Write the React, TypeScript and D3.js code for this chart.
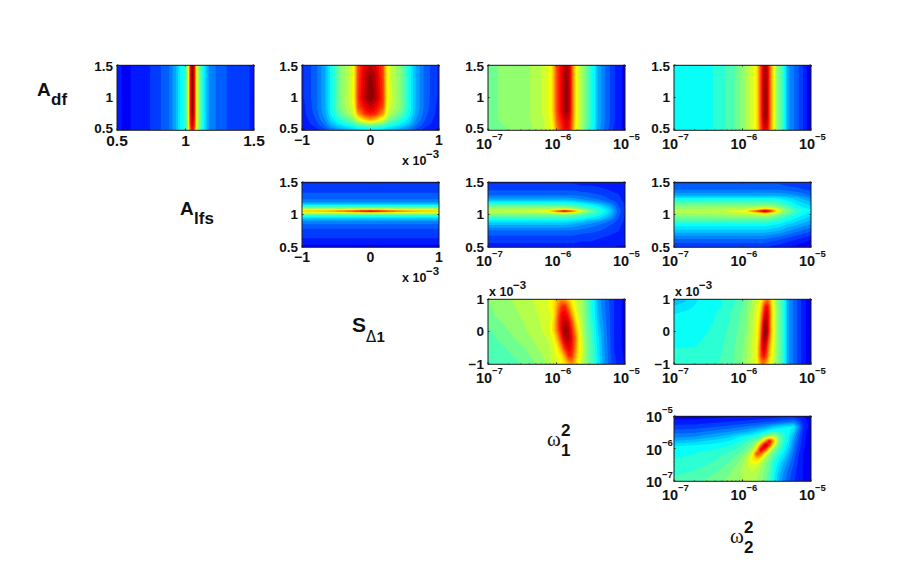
import React, { useMemo } from "react";
import * as d3 from "d3";

// ---- axis tick labels ----
const amplitudeTicks = [0.5, 1, 1.5];
const shiftTicks = [-1, 0, 1];
const logTicks = [-7, -6, -5];

// ---- panel 1: A_df / A_df ----
const p1X = [0.5, 0.55, 0.7, 0.8, 0.88, 0.93, 0.96, 1.0, 1.015, 1.024, 1.03, 1.036, 1.044, 1.05, 1.056, 1.064, 1.07, 1.078, 1.095, 1.125, 1.16, 1.18, 1.3, 1.5];
const p1Y = [1.5, 0.75, 0.6, 0.5];
const p1Z = [
  [.15, .125, .15, .19, .23, .30, .37, .42, .55, .63, .78, .88, .97, .99, .97, .88, .78, .63, .52, .40, .30, .25, .2, .16],
  [.15, .125, .15, .19, .23, .30, .37, .42, .55, .63, .78, .88, .97, .99, .97, .88, .78, .63, .52, .40, .30, .25, .2, .16],
  [.15, .125, .15, .19, .23, .30, .37, .42, .54, .62, .76, .85, .91, .93, .91, .85, .76, .62, .52, .40, .30, .25, .2, .16],
  [.15, .125, .15, .19, .23, .30, .37, .42, .53, .60, .72, .80, .86, .88, .86, .80, .72, .60, .51, .40, .30, .25, .2, .16],
];

// ---- panel 2: S / A_df ----
const p2X = [-1, -.8, -.66, -.58, -.44, -.28, -.234, -.186, -.07, 0, .07, .186, .234, .28, .44, .58, .66, .8, 1];
const p2Y = [1.5, 1.3, 1.0, .85, .75, .66, .58, .5];
const p2Z = [
  [.16, .22, .30, .38, .5, .58, .64, .80, .91, .93, .91, .80, .64, .58, .5, .38, .30, .22, .16],
  [.16, .22, .30, .38, .5, .58, .64, .81, .94, .985, .94, .81, .64, .58, .5, .38, .30, .22, .16],
  [.16, .22, .30, .38, .5, .59, .65, .82, .96, 1.0, .96, .82, .65, .59, .5, .38, .30, .22, .16],
  [.15, .22, .30, .38, .5, .58, .63, .80, .89, .93, .89, .80, .63, .58, .5, .38, .30, .22, .15],
  [.15, .21, .29, .37, .47, .55, .60, .72, .84, .86, .84, .72, .60, .55, .47, .37, .29, .21, .15],
  [.14, .20, .27, .34, .42, .49, .53, .59, .68, .72, .68, .59, .53, .49, .42, .34, .27, .20, .14],
  [.14, .18, .24, .30, .36, .41, .43, .46, .48, .50, .48, .46, .43, .41, .36, .30, .24, .18, .14],
  [.125, .15, .19, .23, .27, .31, .32, .33, .35, .36, .35, .33, .32, .31, .27, .23, .19, .15, .125],
];

// ---- panel 3: omega1 / A_df ----
const p3X = [-7, -6.7, -6.4, -6.16, -6.08, -6.04, -6.0, -5.9, -5.86, -5.81, -5.78, -5.746, -5.71, -5.64, -5.56, -5.49, -5.44, -5.4, -5.3, -5.16, -5];
const p3Y = [1.5, 1.1, .8, .65, .5];
const p3Z = [
  [.49, .51, .53, .58, .62, .70, .80, .92, .96, .92, .82, .70, .62, .55, .47, .40, .37, .30, .24, .17, .12],
  [.49, .51, .53, .58, .62, .70, .80, .93, 1.0, .93, .82, .70, .62, .55, .47, .40, .37, .30, .24, .17, .12],
  [.49, .51, .53, .58, .62, .70, .80, .93, .99, .93, .82, .70, .62, .55, .47, .40, .37, .30, .24, .17, .12],
  [.49, .51, .53, .57, .61, .67, .78, .89, .93, .89, .80, .70, .61, .55, .47, .40, .37, .30, .24, .17, .12],
  [.48, .50, .52, .57, .60, .64, .74, .86, .90, .86, .78, .68, .60, .54, .46, .39, .36, .29, .23, .16, .12],
];

// ---- panel 4: omega2 / A_df ----
const p4X = [-7, -6.76, -6.5, -6.3, -6.1, -5.96, -5.86, -5.8, -5.77, -5.74, -5.695, -5.665, -5.635, -5.605, -5.575, -5.546, -5.5, -5.42, -5.38, -5.34, -5.24, -5.12, -5];
const p4Y = [1.5, 1.0, .7, .5];
const p4Z = [
  [.40, .39, .39, .42, .47, .53, .59, .63, .70, .80, .92, .96, .92, .80, .70, .63, .52, .44, .38, .28, .23, .17, .10],
  [.40, .39, .39, .42, .47, .53, .59, .63, .70, .80, .93, 1.0, .93, .80, .70, .63, .52, .44, .38, .28, .23, .17, .10],
  [.40, .39, .39, .42, .47, .53, .59, .63, .70, .80, .93, .99, .93, .80, .70, .63, .52, .44, .38, .28, .23, .17, .10],
  [.40, .39, .39, .42, .47, .53, .59, .63, .69, .78, .88, .90, .88, .78, .69, .63, .52, .44, .38, .28, .23, .17, .10],
];

// ---- panel 5: S / A_lfs ----
const p5X = [-1, -.6, -.3, -.1, 0, .1, .3, .6, 1];
const p5Y = [1.5, 1.39, 1.28, 1.2, 1.15, 1.115, 1.085, 1.065, 1.052, 1.04, 1.02, .985, .94, .89, .76, .6, .5];
const p5Z = [
  [.16, .16, .16, .16, .16, .16, .16, .16, .16],
  [.19, .19, .19, .19, .19, .19, .19, .19, .19],
  [.21, .21, .21, .21, .21, .21, .21, .21, .21],
  [.25, .25, .25, .25, .25, .25, .25, .25, .25],
  [.35, .35, .35, .35, .35, .35, .35, .35, .35],
  [.45, .45, .45, .45, .45, .45, .45, .45, .45],
  [.57, .57, .57, .57, .57, .57, .57, .57, .57],
  [.62, .64, .68, .72, .74, .72, .68, .64, .62],
  [.70, .76, .87, .97, 1.0, .97, .87, .76, .70],
  [.62, .64, .68, .72, .74, .72, .68, .64, .62],
  [.55, .55, .55, .55, .55, .55, .55, .55, .55],
  [.42, .42, .42, .42, .42, .42, .42, .42, .42],
  [.33, .33, .33, .33, .33, .33, .33, .33, .33],
  [.25, .25, .25, .25, .25, .25, .25, .25, .25],
  [.19, .19, .19, .19, .19, .19, .19, .19, .19],
  [.16, .16, .16, .16, .16, .16, .16, .16, .16],
  [.12, .12, .12, .12, .12, .12, .12, .12, .12],
];

// ---- panel 6: omega1 / A_lfs ----
const p6X = [-7, -6.3, -6.1, -6, -5.88, -5.76, -5.64, -5.5, -5.36, -5.22, -5.1, -5];
const p6Y = [1.5, 1.4, 1.3, 1.23, 1.19, 1.15, 1.1, 1.065, 1.052, 1.04, 1.0, .94, .9, .84, .75, .65, .5];
const p6Z = [
  [.16, .16, .16, .16, .16, .16, .15, .15, .15, .14, .14, .13],
  [.19, .19, .19, .19, .19, .19, .18, .18, .17, .16, .15, .15],
  [.23, .23, .23, .23, .23, .23, .22, .21, .20, .18, .17, .15],
  [.30, .30, .30, .30, .30, .29, .27, .25, .23, .20, .18, .15],
  [.37, .37, .37, .37, .37, .36, .34, .30, .27, .23, .19, .16],
  [.45, .45, .45, .44, .44, .43, .40, .37, .33, .27, .20, .16],
  [.52, .52, .52, .52, .52, .50, .46, .42, .38, .31, .21, .17],
  [.56, .57, .60, .66, .72, .65, .56, .47, .41, .33, .22, .17],
  [.56, .58, .68, .86, 1.0, .85, .60, .48, .42, .33, .22, .17],
  [.56, .57, .60, .66, .72, .65, .56, .47, .41, .33, .22, .17],
  [.50, .50, .50, .50, .50, .49, .46, .42, .38, .31, .21, .17],
  [.42, .42, .42, .42, .42, .41, .39, .36, .33, .27, .20, .16],
  [.36, .36, .36, .36, .36, .35, .33, .30, .27, .23, .19, .16],
  [.30, .30, .30, .30, .30, .29, .27, .25, .23, .20, .18, .15],
  [.23, .23, .23, .23, .23, .23, .22, .21, .20, .18, .17, .15],
  [.19, .19, .19, .19, .19, .19, .18, .18, .17, .16, .15, .15],
  [.15, .15, .15, .15, .15, .15, .15, .15, .14, .14, .13, .13],
];

// ---- panel 7: omega2 / A_lfs ----
const p7X = [-7, -6.3, -5.96, -5.8, -5.67, -5.58, -5.48, -5.36, -5.2, -5];
const p7Y = [1.5, 1.385, 1.29, 1.255, 1.18, 1.1, 1.073, 1.052, 1.03, .995, .917, .84, .76, .68, .604, .5];
const p7Z = [
  [.19, .19, .19, .19, .19, .19, .19, .18, .17, .16],
  [.23, .23, .23, .23, .23, .23, .23, .22, .21, .19],
  [.30, .30, .30, .30, .30, .30, .30, .29, .27, .23],
  [.37, .37, .37, .37, .37, .37, .36, .34, .31, .26],
  [.45, .45, .45, .45, .45, .45, .44, .40, .35, .31],
  [.52, .53, .54, .56, .58, .56, .52, .47, .39, .35],
  [.54, .55, .58, .64, .78, .72, .60, .50, .42, .37],
  [.54, .56, .63, .85, 1.0, .85, .62, .50, .42, .37],
  [.54, .55, .58, .63, .74, .66, .56, .48, .41, .36],
  [.52, .53, .54, .55, .56, .54, .50, .45, .39, .34],
  [.45, .45, .45, .45, .45, .44, .42, .39, .35, .30],
  [.38, .38, .38, .38, .38, .37, .36, .33, .30, .26],
  [.33, .33, .33, .33, .33, .32, .31, .28, .25, .21],
  [.27, .27, .27, .27, .27, .26, .25, .23, .20, .17],
  [.22, .22, .22, .22, .22, .21, .20, .18, .16, .13],
  [.17, .17, .17, .17, .17, .16, .15, .14, .12, .10],
];

// ---- panel 8: omega1 / S ----
const p8X = [-7, -6.707, -6.463, -6.244, -6.122, -6.073, -6.024, -5.976, -5.927, -5.878, -5.829, -5.78, -5.732, -5.683, -5.634, -5.561, -5.478, -5.439, -5.39, -5.293, -5.171, -5];
const p8Y = [1, .76, .5, .26, .04, -.2, -.5, -.76, -1];
const p8Z = [
  [.50, .53, .55, .58, .60, .62, .65, .70, .73, .71, .67, .63, .59, .56, .54, .47, .39, .36, .29, .23, .17, .12],
  [.495, .525, .545, .575, .60, .62, .67, .75, .83, .85, .76, .67, .61, .565, .54, .47, .39, .365, .295, .235, .17, .12],
  [.49, .52, .54, .57, .59, .60, .67, .79, .88, .90, .85, .74, .64, .58, .54, .475, .395, .37, .30, .24, .17, .12],
  [.475, .51, .535, .565, .59, .615, .70, .81, .90, .96, .92, .82, .70, .61, .56, .48, .41, .375, .315, .245, .17, .12],
  [.46, .50, .53, .56, .59, .62, .70, .80, .89, .99, .95, .86, .74, .64, .57, .49, .42, .38, .33, .25, .17, .12],
  [.45, .49, .52, .55, .57, .59, .64, .73, .85, .94, .97, .88, .79, .66, .58, .495, .43, .39, .34, .255, .17, .12],
  [.44, .47, .50, .54, .56, .58, .60, .65, .74, .85, .90, .87, .77, .65, .59, .50, .44, .40, .35, .26, .17, .12],
  [.435, .46, .485, .525, .55, .57, .59, .61, .64, .72, .83, .84, .73, .64, .59, .50, .44, .405, .355, .265, .175, .125],
  [.43, .45, .47, .51, .54, .565, .58, .595, .61, .64, .69, .73, .68, .61, .565, .50, .44, .41, .36, .27, .18, .13],
];

// ---- panel 9: omega2 / S ----
const p9X = [-7, -6.863, -6.693, -6.498, -6.302, -6.102, -5.961, -5.863, -5.8, -5.751, -5.717, -5.683, -5.649, -5.615, -5.58, -5.546, -5.498, -5.424, -5.376, -5.341, -5.254, -5.132, -5];
const p9Y = [1, .76, .5, .26, 0, -.26, -.5, -.76, -1];
const p9Z = [
  [.30, .32, .36, .39, .40, .43, .47, .53, .56, .60, .64, .69, .74, .74, .65, .58, .51, .44, .38, .28, .23, .16, .10],
  [.34, .35, .37, .39, .40, .44, .48, .54, .58, .62, .70, .82, .89, .82, .68, .60, .52, .44, .38, .28, .23, .16, .10],
  [.37, .38, .385, .39, .41, .45, .49, .55, .59, .64, .76, .88, .93, .85, .69, .61, .52, .44, .38, .28, .23, .16, .10],
  [.385, .385, .39, .395, .41, .45, .49, .55, .60, .67, .81, .95, .96, .85, .68, .61, .52, .44, .38, .28, .23, .16, .10],
  [.39, .39, .39, .40, .42, .46, .50, .56, .60, .69, .85, .99, .99, .85, .69, .62, .52, .44, .38, .28, .23, .16, .10],
  [.395, .395, .395, .405, .425, .465, .505, .565, .60, .71, .89, .97, .92, .79, .66, .60, .52, .44, .38, .28, .23, .16, .10],
  [.40, .40, .40, .41, .43, .47, .51, .57, .60, .75, .88, .93, .85, .73, .65, .59, .52, .44, .38, .28, .23, .16, .10],
  [.405, .405, .405, .415, .435, .47, .515, .575, .60, .75, .84, .87, .80, .70, .62, .58, .52, .44, .38, .28, .23, .16, .10],
  [.41, .41, .41, .42, .44, .47, .52, .58, .60, .69, .74, .74, .69, .64, .60, .56, .51, .44, .38, .28, .23, .16, .10],
];

// ---- panel 10: omega2 / omega1 ----
const p10X = [-7, -6.693, -6.4, -6.18, -6.034, -5.937, -5.863, -5.79, -5.732, -5.668, -5.605, -5.546, -5.473, -5.4, -5.327, -5.254, -5.18, -5.107, -5];
const p10Y = [-5, -5.185, -5.338, -5.492, -5.646, -5.769, -5.903, -6.036, -6.159, -6.313, -6.467, -6.62, -6.795, -7];
const p10Z = [
  [.115, .115, .12, .125, .13, .13, .135, .135, .14, .14, .14, .145, .145, .15, .15, .15, .14, .13, .12],
  [.15, .15, .16, .17, .175, .18, .185, .19, .195, .20, .205, .21, .22, .23, .24, .25, .21, .15, .12],
  [.18, .185, .20, .215, .23, .24, .25, .26, .27, .28, .30, .33, .34, .36, .37, .375, .26, .16, .12],
  [.22, .225, .25, .27, .29, .30, .32, .34, .36, .38, .41, .42, .42, .40, .38, .33, .23, .15, .11],
  [.26, .27, .30, .33, .37, .39, .40, .42, .46, .52, .58, .60, .49, .42, .37, .29, .21, .145, .11],
  [.30, .32, .35, .37, .40, .43, .46, .50, .58, .72, .90, .72, .50, .42, .36, .27, .20, .14, .11],
  [.36, .37, .38, .40, .43, .46, .49, .58, .76, .98, .82, .60, .47, .40, .34, .25, .19, .14, .11],
  [.385, .39, .40, .42, .45, .48, .53, .68, .92, .82, .60, .50, .44, .38, .32, .24, .18, .135, .11],
  [.39, .40, .42, .44, .47, .52, .58, .82, .78, .62, .52, .47, .41, .36, .30, .22, .17, .13, .11],
  [.40, .41, .43, .46, .50, .55, .64, .68, .62, .53, .49, .43, .38, .33, .27, .21, .16, .13, .11],
  [.41, .42, .44, .47, .51, .56, .60, .60, .55, .51, .47, .41, .36, .30, .25, .20, .16, .13, .11],
  [.42, .43, .45, .49, .53, .56, .58, .56, .53, .50, .46, .40, .34, .28, .23, .19, .15, .13, .11],
  [.43, .44, .47, .50, .53, .55, .56, .54, .52, .49, .45, .39, .32, .26, .22, .18, .15, .13, .11],
  [.44, .46, .48, .51, .53, .55, .55, .53, .52, .48, .44, .385, .31, .25, .21, .17, .15, .13, .12],
];

// ---- layout ----
const columnLeft = [117, 302, 488, 674];
const rowTop = [65, 182, 299, 416];
const panelW = 137;
const panelH = 65;
const LEVELS = 30;
const FONT = "'Liberation Sans', Arial, sans-serif";

type Kind = "amp" | "shift" | "log";
interface Panel {
  col: number; row: number; xKind: Kind; yKind: Kind;
  xs: number[]; ys: number[]; zs: number[][];
  bigX?: boolean;
}
const panels: Panel[] = [
  { col: 0, row: 0, xKind: "amp", yKind: "amp", xs: p1X, ys: p1Y, zs: p1Z, bigX: true },
  { col: 1, row: 0, xKind: "shift", yKind: "amp", xs: p2X, ys: p2Y, zs: p2Z },
  { col: 2, row: 0, xKind: "log", yKind: "amp", xs: p3X, ys: p3Y, zs: p3Z },
  { col: 3, row: 0, xKind: "log", yKind: "amp", xs: p4X, ys: p4Y, zs: p4Z },
  { col: 1, row: 1, xKind: "shift", yKind: "amp", xs: p5X, ys: p5Y, zs: p5Z },
  { col: 2, row: 1, xKind: "log", yKind: "amp", xs: p6X, ys: p6Y, zs: p6Z },
  { col: 3, row: 1, xKind: "log", yKind: "amp", xs: p7X, ys: p7Y, zs: p7Z },
  { col: 2, row: 2, xKind: "log", yKind: "shift", xs: p8X, ys: p8Y, zs: p8Z },
  { col: 3, row: 2, xKind: "log", yKind: "shift", xs: p9X, ys: p9Y, zs: p9Z },
  { col: 3, row: 3, xKind: "log", yKind: "log", xs: p10X, ys: p10Y, zs: p10Z },
];

// MATLAB jet colour map as a piecewise-linear d3 scale
const jet = d3.scaleLinear<string>()
  .domain([0, .125, .375, .625, .875, 1])
  .range(["#00007f", "#0000ff", "#00ffff", "#ffff00", "#ff0000", "#7f0000"])
  .clamp(true);

function makeScale(kind: Kind, range: [number, number]): any {
  if (kind === "log") return d3.scaleLog().domain([1e-7, 1e-5]).range(range);
  if (kind === "shift") return d3.scaleLinear().domain([-1, 1]).range(range);
  return d3.scaleLinear().domain([0.5, 1.5]).range(range);
}
const toGrid = (kind: Kind, v: number) => (kind === "log" ? Math.log10(v) : v);

// position of v inside a monotonic array, as index + fraction
function locate(arr: number[], v: number): [number, number] {
  const asc = arr[arr.length - 1] > arr[0];
  const a = asc ? arr : arr.map((d) => -d);
  const t = asc ? v : -v;
  const i = Math.max(1, Math.min(a.length - 1, d3.bisectLeft(a, t)));
  return [i - 1, Math.max(0, Math.min(1, (t - a[i - 1]) / (a[i] - a[i - 1])))];
}

function blur(src: number[], w: number, h: number): number[] {
  const k = [0.25, 0.5, 0.25];
  const tmp = src.slice();
  const out = src.slice();
  for (let y = 0; y < h; y++) for (let x = 0; x < w; x++) {
    let s = 0;
    for (let d = -1; d <= 1; d++) s += k[d + 1] * src[y * w + Math.max(0, Math.min(w - 1, x + d))];
    tmp[y * w + x] = s;
  }
  for (let y = 0; y < h; y++) for (let x = 0; x < w; x++) {
    let s = 0;
    for (let d = -1; d <= 1; d++) s += k[d + 1] * tmp[Math.max(0, Math.min(h - 1, y + d)) * w + x];
    out[y * w + x] = s;
  }
  return out;
}

function ampBaseline(row: number, t: number): number {
  if (row !== 0) return 4.5;
  return t === 1.5 ? 5.6 : t === 0.5 ? 3 : 4.3;
}

function PanelView({ p }: { p: Panel }) {
  const x0 = columnLeft[p.col];
  const y0 = rowTop[p.row];
  const xScale = makeScale(p.xKind, [x0, x0 + panelW]);
  const yScale = makeScale(p.yKind, [y0 + panelH, y0]);

  const paths = useMemo(() => {
    const w = panelW * 2;
    const h = panelH * 2;
    let grid: number[] = new Array(w * h);
    for (let r = 0; r < h; r++) {
      const dy = toGrid(p.yKind, yScale.invert(y0 + ((r + 0.5) / h) * panelH));
      const [ri, rf] = locate(p.ys, dy);
      for (let c = 0; c < w; c++) {
        const dx = toGrid(p.xKind, xScale.invert(x0 + ((c + 0.5) / w) * panelW));
        const [ci, cf] = locate(p.xs, dx);
        const a = p.zs[ri][ci], b = p.zs[ri][ci + 1], d = p.zs[ri + 1][ci], e = p.zs[ri + 1][ci + 1];
        grid[r * w + c] = (a * (1 - cf) + b * cf) * (1 - rf) + (d * (1 - cf) + e * cf) * rf;
      }
    }
    grid = blur(grid, w, h);
    const thresholds = d3.range(0, LEVELS).map((i) => i / LEVELS);
    const contours = d3.contours().size([w, h]).thresholds(thresholds)(grid);
    const path = d3.geoPath(
      d3.geoTransform({
        point(px: number, py: number) {
          (this as any).stream.point(x0 + (px / w) * panelW, y0 + (py / h) * panelH);
        },
      })
    );
    return contours
      .filter((c) => c.coordinates.length > 0)
      .map((c) => ({ d: path(c as any) || "", fill: jet(c.value + 0.5 / LEVELS) }));
  }, []);

  const xTicks = p.xKind === "amp" ? amplitudeTicks : p.xKind === "shift" ? shiftTicks : logTicks;
  const yTicks = p.yKind === "amp" ? amplitudeTicks : p.yKind === "shift" ? shiftTicks : logTicks;
  const xPos = (t: number) => (p.xKind === "log" ? xScale(Math.pow(10, t)) : xScale(t));
  const yPos = (t: number) => (p.yKind === "log" ? yScale(Math.pow(10, t)) : yScale(t));
  const fmt = (t: number) => (t < 0 ? "\u2212" + Math.abs(t) : String(t));
  const minorX: number[] = p.xKind === "log" ? xScale.ticks() : [];
  const minorY: number[] = p.yKind === "log" ? yScale.ticks() : [];
  const xFs = p.bigX ? 15.5 : 14;

  return (
    <g>
      <rect x={x0} y={y0} width={panelW} height={panelH} fill={jet(0.1)} />
      {paths.map((c, i) => <path key={i} d={c.d} fill={c.fill} />)}
      <rect x={x0} y={y0 + 0.3} width={panelW} height={panelH} fill="none" stroke="#1a1a1a" strokeWidth={1} />
      {xTicks.map((t) => (
        <g key={t}>
          <line x1={xPos(t)} x2={xPos(t)} y1={y0 + panelH} y2={y0 + panelH - 1.5} stroke="#222" />
          <line x1={xPos(t)} x2={xPos(t)} y1={y0} y2={y0 + 1.5} stroke="#222" />
        </g>
      ))}
      {yTicks.map((t) => (
        <g key={t}>
          <line x1={x0} x2={x0 + 1.5} y1={yPos(t)} y2={yPos(t)} stroke="#222" />
          <line x1={x0 + panelW} x2={x0 + panelW - 1.5} y1={yPos(t)} y2={yPos(t)} stroke="#222" />
        </g>
      ))}
      {minorX.map((t) => (
        <line key={"mx" + t} x1={xScale(t)} x2={xScale(t)} y1={y0 + panelH} y2={y0 + panelH - 0.8} stroke="#333" strokeWidth={0.6} />
      ))}
      {minorY.map((t) => (
        <line key={"my" + t} x1={x0} x2={x0 + 0.8} y1={yScale(t)} y2={yScale(t)} stroke="#333" strokeWidth={0.6} />
      ))}
      {xTicks.map((t) =>
        p.xKind === "log" ? (
          <g key={t} fontWeight="bold" fill="#111">
            <text x={xPos(t) - 12} y={y0 + panelH + 19} fontSize={14.5}>10</text>
            <text x={xPos(t) + 4} y={y0 + panelH + 10} fontSize={9.5}>{fmt(t)}</text>
          </g>
        ) : (
          <text key={t} x={xPos(t)} y={y0 + panelH + (p.bigX ? 16 : 15)} fontSize={xFs} fontWeight="bold" textAnchor="middle" fill="#111">
            {fmt(t)}
          </text>
        )
      )}
      {yTicks.map((t) =>
        p.yKind === "log" ? (
          <g key={t} fontWeight="bold" fill="#111">
            <text x={x0 - 28} y={yPos(t) + 6} fontSize={14.5}>10</text>
            <text x={x0 - 12} y={yPos(t) - 3} fontSize={9.5}>{fmt(t)}</text>
          </g>
        ) : (
          <text key={t} x={x0 - 4} y={yPos(t) + (p.yKind === "amp" ? ampBaseline(p.row, t) : 4.5)} fontSize={13.5} fontWeight="bold" textAnchor="end" fill="#111">
            {fmt(t)}
          </text>
        )
      )}
    </g>
  );
}

function ScaleNote({ x, y }: { x: number; y: number }) {
  return (
    <g fontWeight="bold" fill="#111">
      <text x={x} y={y} fontSize={12.5}>x 10</text>
      <text x={x + 24} y={y - 7} fontSize={11.5}>{"\u22123"}</text>
    </g>
  );
}

function Omega({ x, y, sub }: { x: number; y: number; sub: string }) {
  return (
    <g fill="#111">
      <text x={x} y={y} fontSize={21} fontFamily="'Liberation Serif', serif">{"\u03c9"}</text>
      <text x={x + 14} y={y - 10} fontSize={17} fontWeight="bold">2</text>
      <text x={x + 14} y={y + 10} fontSize={17} fontWeight="bold">{sub}</text>
    </g>
  );
}

export default function App() {
  return (
    <svg width={900} height={581} viewBox="0 0 900 581" fontFamily={FONT}
      style={{ position: "absolute", left: 0, top: 0, display: "block", background: "#fff" }}>
      {panels.map((p, i) => <PanelView key={i} p={p} />)}
      <ScaleNote x={402} y={165} />
      <ScaleNote x={402} y={282} />
      <ScaleNote x={489} y={296} />
      <ScaleNote x={675} y={296} />
      <g fill="#111" fontWeight="bold">
        <text x={37} y={96} fontSize={19}>A</text>
        <text x={51} y={105} fontSize={17}>df</text>
        <text x={180} y={215} fontSize={19}>A</text>
        <text x={194} y={224} fontSize={17}>lfs</text>
        <text x={352} y={332} fontSize={21}>S</text>
        <text x={366} y={342} fontSize={15} fontWeight="normal" fontFamily="'DejaVu Sans', sans-serif">{"\u0394"}</text>
        <text x={376.5} y={342} fontSize={15}>1</text>
      </g>
      <Omega x={547} y={446} sub="1" />
      <Omega x={730} y={543} sub="2" />
    </svg>
  );
}
